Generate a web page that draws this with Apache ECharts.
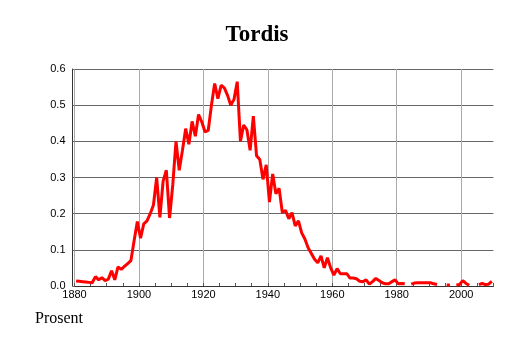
<!DOCTYPE html>
<html>
<head>
<meta charset="utf-8">
<script src="https://cdn.jsdelivr.net/npm/echarts@6/dist/echarts.min.js"></script>
<style>
html,body{margin:0;padding:0;background:#fff;}
#chart{width:514px;height:343px;}
</style>
</head>
<body>
<div id="chart"></div>
<script>
var titleText = 'Tordis';
var yAxisName = 'Prosent';
var firstYear = 1880;
var years = [];
for (var y = 1880; y <= 2009; y++) years.push(String(y));
var values = [
  0.014, 0.013, 0.012, 0.011, 0.010, 0.009, 0.026, 0.017, 0.023, 0.015,
  0.019, 0.042, 0.017, 0.053, 0.046, 0.054, 0.062, 0.070, 0.125, 0.178,
  0.132, 0.172, 0.180, 0.200, 0.224, 0.300, 0.190, 0.290, 0.320, 0.188,
  0.280, 0.400, 0.320, 0.375, 0.435, 0.392, 0.455, 0.414, 0.474, 0.454,
  0.426, 0.430, 0.500, 0.560, 0.518, 0.555, 0.548, 0.527, 0.500, 0.516,
  0.565, 0.400, 0.445, 0.432, 0.375, 0.470, 0.360, 0.350, 0.295, 0.335,
  0.232, 0.310, 0.255, 0.270, 0.203, 0.209, 0.186, 0.203, 0.166, 0.180,
  0.147, 0.130, 0.106, 0.090, 0.074, 0.064, 0.083, 0.050, 0.078, 0.050,
  0.030, 0.048, 0.034, 0.034, 0.034, 0.022, 0.022, 0.020, 0.013, 0.012,
  0.017, 0.005, 0.012, 0.021, 0.015, 0.009, 0.006, 0.006, 0.012, 0.017,
  0.006, 0.007, 0.006, null,  0.005, 0.008, 0.009, 0.009, 0.009, 0.009,
  0.009, 0.006, 0.004, null,  null,  0.003, 0.003, null,  0.003, 0.004,
  0.015, 0.007, 0.002, null,  null,  0.004, 0.007, 0.004, 0.005, 0.013
];
var xTickMin = 1880, xTickMax = 2010, xTickStep = 20;
var yTickMin = 0, yTickMax = 0.6, yTickStep = 0.1;

var chart = echarts.init(document.getElementById('chart'), null, {renderer: 'canvas'});
chart.setOption({
  animation: false,
  backgroundColor: '#ffffff',
  title: [{
    text: titleText,
    left: 'center',
    top: 19,
    textStyle: {fontFamily: 'Liberation Serif', fontWeight: 'bold', fontSize: 23, color: '#000'}
  }, {
    text: yAxisName,
    left: 30,
    top: 306,
    textStyle: {fontFamily: 'Liberation Serif', fontWeight: 'normal', fontSize: 16, color: '#000'}
  }],
  grid: {left: 74.5, right: 20.6, top: 69, bottom: 57, containLabel: false, outerBoundsMode: 'none'},
  xAxis: [{
    type: 'category',
    data: years,
    boundaryGap: true,
    show: false
  }, {
    type: 'value',
    min: xTickMin,
    max: xTickMax,
    interval: xTickStep,
    position: 'bottom',
    axisLine: {show: true, onZero: false, lineStyle: {color: '#333', width: 1}},
    axisTick: {show: true, inside: true, length: 3, lineStyle: {color: '#555'}},
    minorTick: {show: true, splitNumber: 4, length: 3, lineStyle: {color: '#555'}},
    axisLabel: {
      margin: 3, fontFamily: 'Liberation Sans', fontSize: 11, color: '#000',
      showMaxLabel: false,
      formatter: function (v) { return String(v); }
    },
    splitLine: {show: true, showMaxLine: false, lineStyle: {color: '#aaa', width: 1}}
  }],
  yAxis: {
    type: 'value',
    min: yTickMin,
    max: yTickMax,
    interval: yTickStep,
    offset: 2,
    axisLine: {show: true, lineStyle: {color: '#333', width: 1}},
    axisTick: {show: true, inside: true, length: 2, lineStyle: {color: '#666'}},
    axisLabel: {
      margin: 7, fontFamily: 'Liberation Sans', fontSize: 11, color: '#000',
      formatter: function (v) { return v.toFixed(1); }
    },
    splitLine: {show: true, lineStyle: {color: '#666', width: 1}}
  },
  series: [{
    type: 'line',
    xAxisIndex: 0,
    data: values,
    showSymbol: false,
    symbol: 'none',
    connectNulls: false,
    lineStyle: {color: '#ff0000', width: 3},
    itemStyle: {color: '#ff0000'}
  }]
});
</script>
</body>
</html>
